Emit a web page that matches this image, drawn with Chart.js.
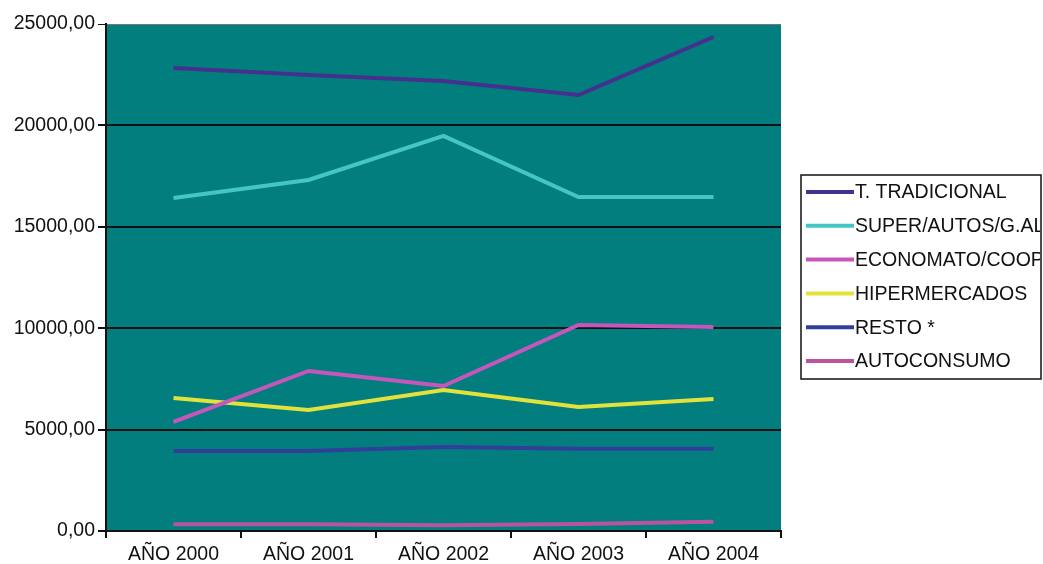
<!DOCTYPE html>
<html>
<head>
<meta charset="utf-8">
<script src="https://cdn.jsdelivr.net/npm/chart.js@4"></script>
<style>
  html, body { margin: 0; padding: 0; background: #fff; }
  #wrap { width: 1043px; height: 564px; }
</style>
</head>
<body>
<div id="wrap"><canvas id="grafico" width="1043" height="564"></canvas></div>
<script>
// Datos
const anios = ['AÑO 2000', 'AÑO 2001', 'AÑO 2002', 'AÑO 2003', 'AÑO 2004'];
const tradicional = [22830, 22480, 22190, 21500, 24360];
const superAutos = [16420, 17310, 19480, 16470, 16470];
const economato = [5380, 7890, 7150, 10160, 10060];
const hipermercados = [6560, 5970, 6950, 6120, 6510];
const resto = [3950, 3950, 4140, 4050, 4050];
const autoconsumo = [330, 330, 280, 350, 460];

const FUENTE = '"Liberation Sans", Arial, sans-serif';

// Fondo verde azulado del área de trazado
const fondoPlot = {
    id: 'fondoPlot',
    beforeDraw(chart) {
        const { ctx, chartArea: a } = chart;
        ctx.save();
        ctx.fillStyle = '#037e7e';
        ctx.fillRect(a.left, a.top, a.right - a.left, a.bottom - a.top);
        ctx.restore();
    }
};

// Leyenda en recuadro (recortada por el borde derecho, como en el original)
const leyenda = {
    id: 'leyenda',
    afterDraw(chart) {
        const ctx = chart.ctx;
        const x0 = 801, y0 = 175, x1 = 1041, y1 = 379;
        ctx.save();
        ctx.fillStyle = '#ffffff';
        ctx.fillRect(x0, y0, x1 - x0, y1 - y0);
        ctx.strokeStyle = '#111';
        ctx.lineWidth = 1.5;
        ctx.strokeRect(x0, y0, x1 - x0, y1 - y0);
        ctx.beginPath();
        ctx.rect(x0 + 1, y0 + 1, x1 - x0 - 2, y1 - y0 - 2);
        ctx.clip();
        ctx.font = '19.5px ' + FUENTE;
        ctx.textBaseline = 'middle';
        chart.data.datasets.forEach((ds, i) => {
            const y = 192 + i * 33.8;
            ctx.strokeStyle = ds.borderColor;
            ctx.lineWidth = 4;
            ctx.beginPath();
            ctx.moveTo(806, y);
            ctx.lineTo(854, y);
            ctx.stroke();
            ctx.fillStyle = '#111';
            ctx.fillText(ds.label, 855, y + 1);
        });
        ctx.restore();
    }
};

function serie(label, data, color) {
    return {
        label: label,
        data: data,
        borderColor: color,
        backgroundColor: color,
        borderWidth: 4,
        pointRadius: 0,
        tension: 0
    };
}

new Chart(document.getElementById('grafico').getContext('2d'), {
    type: 'line',
    data: {
        labels: anios,
        datasets: [
            serie('T. TRADICIONAL', tradicional, '#45308f'),
            serie('SUPER/AUTOS/G.ALMACENES', superAutos, '#45c6c6'),
            serie('ECONOMATO/COOPERATIVAS', economato, '#c656bc'),
            serie('HIPERMERCADOS', hipermercados, '#e2e23c'),
            serie('RESTO *', resto, '#30409a'),
            serie('AUTOCONSUMO', autoconsumo, '#b8559e')
        ]
    },
    options: {
        responsive: false,
        animation: false,
        devicePixelRatio: 1,
        layout: { padding: { top: 24, right: 262, left: 0, bottom: 0 } },
        plugins: {
            legend: { display: false },
            tooltip: { enabled: false }
        },
        scales: {
            x: {
                offset: true,
                afterFit: s => { s.height = 33; },
                grid: {
                    offset: true,
                    drawOnChartArea: false,
                    drawTicks: true,
                    tickLength: 7,
                    color: '#111',
                    lineWidth: 2
                },
                border: { display: true, color: '#111', width: 2 },
                ticks: {
                    color: '#111',
                    padding: 5,
                    maxRotation: 0,
                    font: { family: FUENTE, size: 19.5 }
                }
            },
            y: {
                min: 0,
                max: 25000,
                afterFit: s => { s.width = 106; },
                grid: {
                    color: c => c.tick && c.tick.value === 25000 ? '#777' : '#111',
                    lineWidth: c => c.tick && c.tick.value === 25000 ? 1 : 2,
                    drawTicks: true,
                    tickLength: 8,
                    tickColor: '#111'
                },
                border: { display: true, color: '#111', width: 2 },
                ticks: {
                    stepSize: 5000,
                    color: '#111',
                    padding: 3,
                    font: { family: FUENTE, size: 19.5 },
                    callback: v => v.toFixed(2).replace('.', ',')
                }
            }
        }
    },
    plugins: [fondoPlot, leyenda]
});
</script>
</body>
</html>
